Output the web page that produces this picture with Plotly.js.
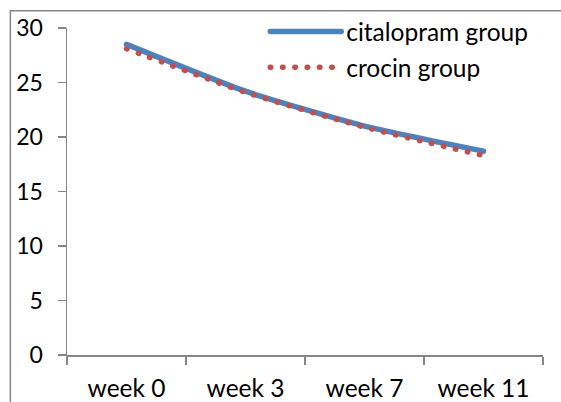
<!DOCTYPE html>
<html>
<head>
<meta charset="utf-8">
<script src="https://cdn.plot.ly/plotly-3.0.1.min.js"></script>
<style>
  html, body { margin: 0; padding: 0; background: #fff; }
  #chart { width: 561px; height: 402px; }
  .js-line, .legendlines path { stroke-linecap: round; }
</style>
</head>
<body>
<div id="chart"></div>
<script>
const categories = ["week 0", "week 3", "week 7", "week 11"];
const citalopram = [28.5, 24.2, 21.0, 18.7];
const crocin = [28.1, 24.1, 20.9, 18.3];
const seriesNames = ["citalopram group", "crocin group"];
const yTicks = [0, 5, 10, 15, 20, 25, 30];

const FONT = "Lato, 'Open Sans', sans-serif";
const AXIS_COLOR = "#868686";

const traces = [
  {
    x: categories, y: citalopram, name: seriesNames[0], type: "scatter", mode: "lines",
    line: { color: "#4F81BD", width: 5.5, shape: "spline", smoothing: 0.55 },
    legendgroup: "a"
  },
  {
    x: categories, y: crocin, name: seriesNames[1], type: "scatter", mode: "lines",
    line: { color: "#C0504D", width: 5.5, shape: "spline", smoothing: 0.55, dash: "0.5px,11.8px" },
    legendgroup: "b"
  }
];

const layout = {
  width: 561, height: 402,
  margin: { l: 66.7, r: 17.7, t: 28.3, b: 47, pad: 0, autoexpand: false },
  paper_bgcolor: "#fff", plot_bgcolor: "#fff",
  font: { family: FONT, size: 24.5, color: "#000" },
  showlegend: true,
  legend: {
    x: 0.4165, y: 1.058, xanchor: "left", yanchor: "top",
    itemwidth: 71, tracegroupgap: 1, traceorder: "grouped",
    bgcolor: "rgba(0,0,0,0)", font: { family: FONT, size: 24.5, color: "#000" }
  },
  xaxis: {
    type: "category", showgrid: false, zeroline: false,
    showline: true, linecolor: AXIS_COLOR, linewidth: 1.5,
    ticks: "outside", ticklen: 8, tickcolor: AXIS_COLOR, tickwidth: 1.5,
    tickson: "boundaries", range: [-0.5, 3.5],
    ticklabelstandoff: 11,
    tickfont: { family: FONT, size: 24.5, color: "#000" }
  },
  yaxis: {
    range: [0, 30], tickvals: yTicks, showgrid: false, zeroline: false,
    showline: true, linecolor: AXIS_COLOR, linewidth: 1.5,
    ticks: "outside", ticklen: 8, tickcolor: AXIS_COLOR, tickwidth: 1.5,
    ticklabelstandoff: 10,
    tickfont: { family: FONT, size: 23, color: "#000" }
  },
  shapes: [
    { type: "rect", xref: "paper", yref: "paper",
      x0: -0.119, x1: 2, y0: -1, y1: 1.053,
      line: { color: AXIS_COLOR, width: 1.5 }, fillcolor: "rgba(0,0,0,0)", layer: "below" }
  ],
  hovermode: false
};

Plotly.newPlot("chart", traces, layout, { staticPlot: true, displayModeBar: false });
</script>
</body>
</html>
